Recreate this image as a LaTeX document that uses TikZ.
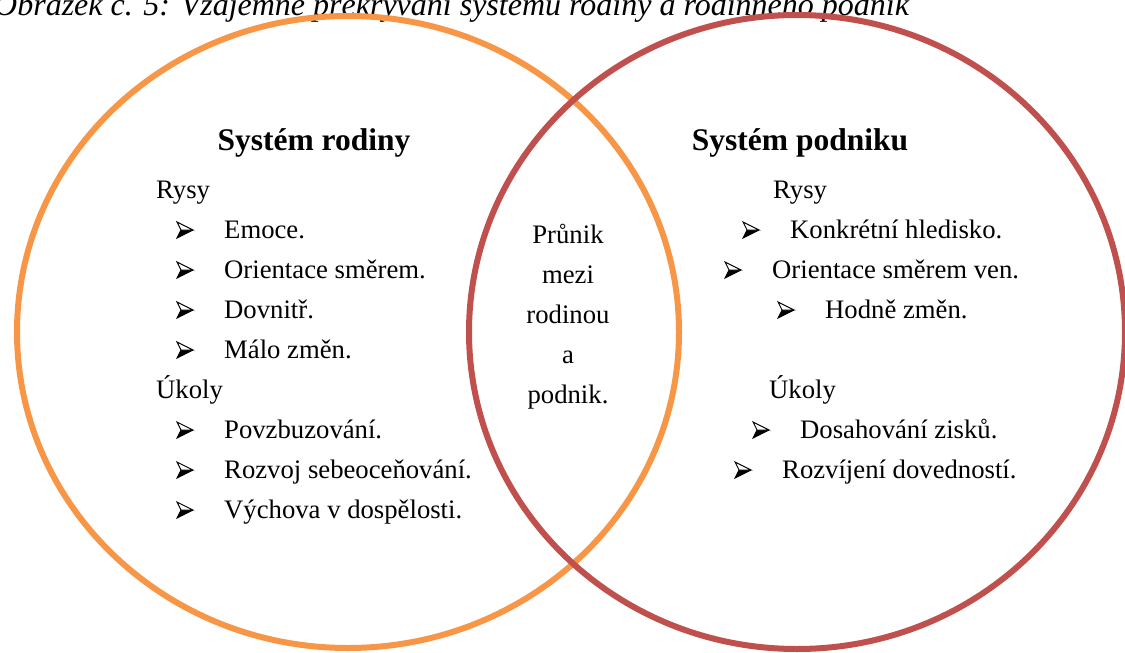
\documentclass[tikz,border=0pt]{standalone}
\usepackage{fontspec}
\setmainfont{Liberation Serif}
\definecolor{famorange}{HTML}{F79646}
\definecolor{firmred}{HTML}{C0504D}
\tikzset{
  ring/.style={line width=6pt},
  body/.style={font=\fontsize{26.7}{32}\selectfont, inner sep=0pt, anchor=base west},
  midtext/.style={font=\fontsize{26.7}{32}\selectfont, inner sep=0pt, anchor=base},
  heading/.style={font=\fontsize{31.5}{38}\selectfont\bfseries, inner sep=0pt, anchor=base},
  caption/.style={font=\fontsize{32}{38}\selectfont\itshape, inner sep=0pt, anchor=base west},
  arrowbullet/.pic={
    \fill[black] (4,0) -- (16,0) -- (0,8) -- cycle;
    \draw[black, line width=0.9pt, line join=miter, fill=white] (0,-8) -- (16,0) -- (4,0) -- cycle;
    \draw[black, line width=0.9pt, line join=miter] (4,0) -- (0,8) -- (16,0);
  }
}
% one list entry: bullet 47 units left of the text, resting on the baseline
\newcommand\listitem[4]{%
  \pic at (#2-47,#3-8) {arrowbullet};
  \node[body] (#1) at (#2,#3) {#4};}
\begin{document}
\begin{tikzpicture}[x=1pt,y=-1pt]
\useasboundingbox (0,0) rectangle (1125,653);

% caption line
\node[caption] (cap) at (-6,16) {Obrázek č. 5: Vzájemné překrývání systému rodiny a rodinného podnik};

% the two overlapping systems
\draw[ring, famorange] (348,332) ellipse [x radius=331, y radius=316];
\draw[ring, firmred] (797,332) ellipse [x radius=328, y radius=317];

% family system
\node[heading] (famhead) at (314,150) {Systém rodiny};
\node[body] (famtraits) at (156,198) {Rysy};
\listitem{f1}{224}{238}{Emoce.}
\listitem{f2}{224}{278}{Orientace směrem.}
\listitem{f3}{224}{318}{Dovnitř.}
\listitem{f4}{224}{358}{Málo změn.}
\node[body] (famtasks) at (156,398) {Úkoly};
\listitem{f5}{224}{438}{Povzbuzování.}
\listitem{f6}{224}{478}{Rozvoj sebeoceňování.}
\listitem{f7}{224}{518}{Výchova v dospělosti.}

% overlap
\node[midtext] (m1) at (568,243) {Průnik};
\node[midtext] (m2) at (568,283) {mezi};
\node[midtext] (m3) at (568,323) {rodinou};
\node[midtext] (m4) at (568,363) {a};
\node[midtext] (m5) at (568,403) {podnik.};

% business system
\node[heading] (firmhead) at (800,150) {Systém podniku};
\node[body] (firmtraits) at (773,198) {Rysy};
\listitem{p1}{790}{238}{Konkrétní hledisko.}
\listitem{p2}{772}{278}{Orientace směrem ven.}
\listitem{p3}{825}{318}{Hodně změn.}
\node[body] (firmtasks) at (769,398) {Úkoly};
\listitem{p4}{800}{438}{Dosahování zisků.}
\listitem{p5}{782}{478}{Rozvíjení dovedností.}
\end{tikzpicture}
\end{document}
